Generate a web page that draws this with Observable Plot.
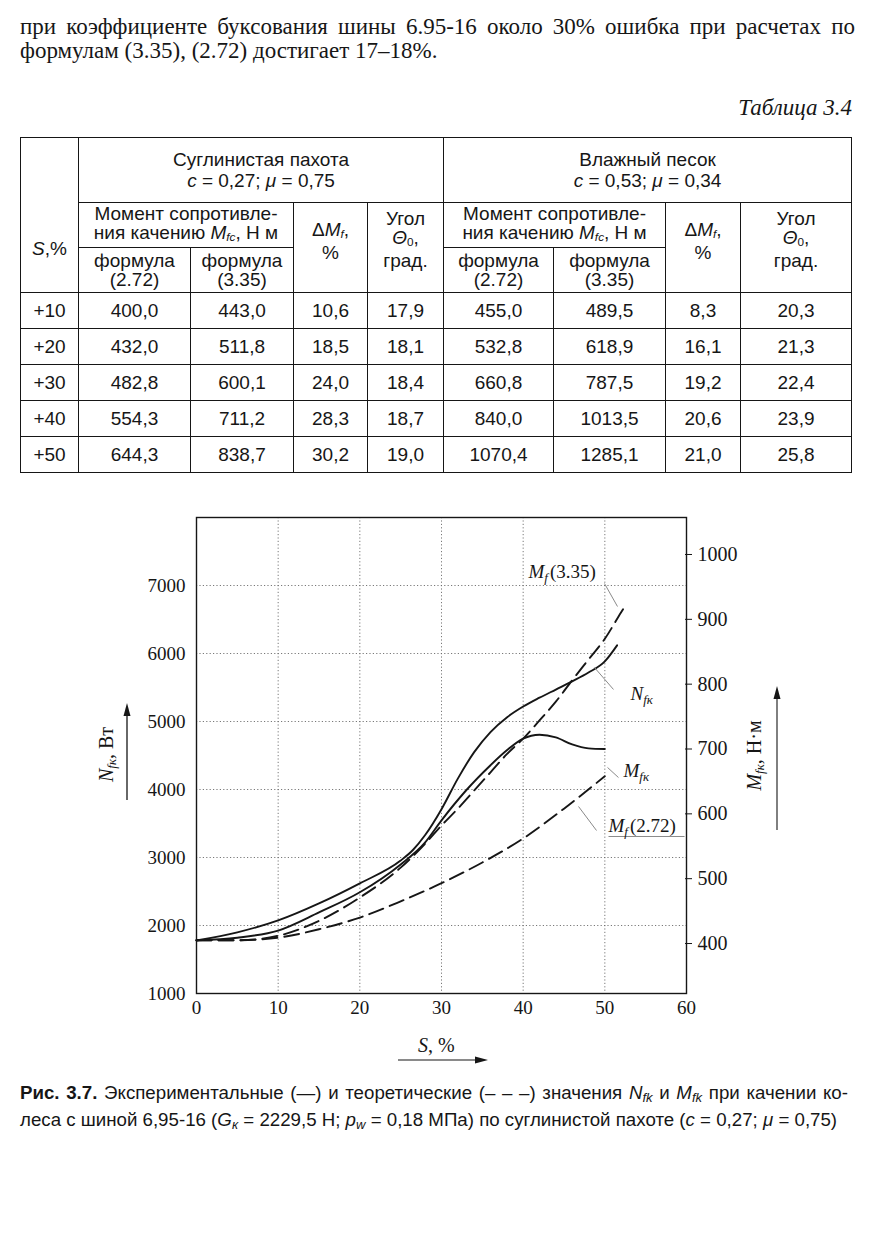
<!DOCTYPE html>
<html><head><meta charset="utf-8">
<script src="https://cdn.jsdelivr.net/npm/d3@7"></script>
<script src="https://cdn.jsdelivr.net/npm/@observablehq/plot@0.6"></script>
<style>
body{margin:0;background:#fff;}
#page{position:relative;width:885px;height:1248px;overflow:hidden;background:#fff;color:#161616;}
.serif{font-family:"Liberation Serif","Times New Roman",serif;}
.sans{font-family:"Liberation Sans",Arial,sans-serif;}
.abs{position:absolute;}
#tbl{border-collapse:collapse;table-layout:fixed;}
#tbl td{border:1.5px solid #161616;text-align:center;vertical-align:middle;padding:0;line-height:19px;}
#tbl sub{font-size:62%;vertical-align:-2px;}
#chart{position:absolute;left:0;top:490px;}
.cap sub{font-size:70%;vertical-align:-3px;}
</style></head>
<body><div id="page">

<div class="abs serif" style="left:20px;top:15px;width:835px;font-size:23px;line-height:24px;">
<div style="text-align:justify;text-align-last:justify">при коэффициенте буксования шины 6.95-16 около 30% ошибка при расчетах по</div>
<div>формулам (3.35), (2.72) достигает 17–18%.</div>
</div>
<div class="abs serif" style="right:33px;top:95px;font-size:23px;font-style:italic">Таблица 3.4</div>

<table id="tbl" class="abs sans" style="left:20px;top:137px;width:831px;font-size:19px;">
<colgroup><col style="width:58px"><col style="width:112px"><col style="width:103px"><col style="width:74px"><col style="width:76px"><col style="width:110px"><col style="width:112px"><col style="width:75px"><col style="width:111px"></colgroup>
<tbody id="tb">
<tr style="height:65px">
<td rowspan="3" style="vertical-align:top;padding-top:101px"><i>S</i>,%</td>
<td colspan="4" style="line-height:21px">Суглинистая пахота<br><i>c</i> = 0,27; <i>μ</i> = 0,75</td>
<td colspan="4" style="line-height:21px">Влажный песок<br><i>c</i> = 0,53; <i>μ</i> = 0,34</td>
</tr>
<tr style="height:45px">
<td colspan="2">Момент сопротивле-<br>ния качению <i>M<sub>fc</sub></i>, Н м</td>
<td rowspan="2" style="padding-bottom:14px">Δ<i>M<sub>f</sub></i>,<br>%</td>
<td rowspan="2" style="padding-bottom:16px">Угол<br><i>Θ</i><sub>0</sub>,<br>град.</td>
<td colspan="2">Момент сопротивле-<br>ния качению <i>M<sub>fc</sub></i>, Н м</td>
<td rowspan="2" style="padding-bottom:14px">Δ<i>M<sub>f</sub></i>,<br>%</td>
<td rowspan="2" style="padding-bottom:16px">Угол<br><i>Θ</i><sub>0</sub>,<br>град.</td>
</tr>
<tr style="height:45px">
<td>формула<br>(2.72)</td><td>формула<br>(3.35)</td>
<td>формула<br>(2.72)</td><td>формула<br>(3.35)</td>
</tr>
</tbody></table>

<div id="chart"></div>

<!-- axis titles -->
<div class="abs serif" style="left:57px;top:742px;width:100px;text-align:center;font-size:20px;transform:rotate(-90deg);white-space:nowrap"><i>N</i><sub style="font-size:65%;font-style:italic;vertical-align:-3px">fк</sub>, Вт</div>
<div class="abs serif" style="left:705px;top:743px;width:100px;text-align:center;font-size:20px;transform:rotate(-90deg);white-space:nowrap"><i>M</i><sub style="font-size:65%;font-style:italic;vertical-align:-3px">fк</sub>, Н·м</div>
<div class="abs serif" style="left:418px;top:1034px;font-size:20px;white-space:nowrap"><i>S</i>, %</div>
<svg class="abs" style="left:0;top:0;pointer-events:none" width="885" height="1248">
<line x1="127" y1="800" x2="127" y2="712" stroke="#161616" stroke-width="1.3"/>
<polygon points="127,703 123.5,716 130.5,716" fill="#161616"/>
<line x1="777" y1="830" x2="777" y2="695" stroke="#161616" stroke-width="1.1"/>
<polygon points="777,686 773.5,699 780.5,699" fill="#161616"/>
<line x1="398" y1="1060" x2="478" y2="1060" stroke="#161616" stroke-width="1.1"/>
<polygon points="488,1060 475,1056.5 475,1063.5" fill="#161616"/>
</svg>

<div class="abs sans cap" style="left:20px;top:1082px;width:828px;font-size:18.7px;line-height:22px;">
<div style="text-align:justify;text-align-last:justify"><b>Рис. 3.7.</b> Экспериментальные (—) и теоретические (– – –) значения <i>N<sub>fk</sub></i> и <i>M<sub>fk</sub></i> при качении ко-</div>
<div>леса с шиной 6,95-16 (<i>G<sub>к</sub></i> = 2229,5 Н; <i>p<sub>w</sub></i> = 0,18 МПа) по суглинистой пахоте (<i>c</i> = 0,27; <i>μ</i> = 0,75)</div>
</div>
</div>

<script>
// ---------- table data ----------
const sRows = ["+10","+20","+30","+40","+50"];
const loamMf272 = [400.0, 432.0, 482.8, 554.3, 644.3];
const loamMf335 = [443.0, 511.8, 600.1, 711.2, 838.7];
const loamDM = [10.6, 18.5, 24.0, 28.3, 30.2];
const loamAngle = [17.9, 18.1, 18.4, 18.7, 19.0];
const sandMf272 = [455.0, 532.8, 660.8, 840.0, 1070.4];
const sandMf335 = [489.5, 618.9, 787.5, 1013.5, 1285.1];
const sandDM = [8.3, 16.1, 19.2, 20.6, 21.0];
const sandAngle = [20.3, 21.3, 22.4, 23.9, 25.8];

// ---------- chart data ----------
const xTicks = [0, 10, 20, 30, 40, 50, 60];
const yTicksW = [1000, 2000, 3000, 4000, 5000, 6000, 7000];
const rightTicksNm = [400, 500, 600, 700, 800, 900, 1000];

const sNfk = [0, 5, 10, 15, 20, 25, 26.5, 28, 30, 32, 34, 36, 38, 40, 42, 44, 46, 48, 50, 51.5];
const nfkW = [1780, 1900, 2075, 2325, 2620, 2955, 3110, 3330, 3710, 4160, 4550, 4845, 5060, 5220, 5350, 5470, 5590, 5720, 5885, 6120];

const sMfk = [0, 5, 10, 15, 20, 25, 28, 30, 33, 36, 38, 40, 42, 44, 46, 48, 50];
const mfkNm = [405, 409, 420, 448, 479, 522, 556, 590, 636, 675, 698, 716, 722, 718, 707, 701, 700];

const sMf335 = [0, 5, 10, 15, 20, 25, 28, 30, 32, 34, 36, 38, 40, 42, 44, 46, 48, 50, 52, 52.5];
const mf335Nm = [405, 405, 412, 435, 471, 517, 554, 582, 608, 636, 664, 692, 716, 744, 773, 806, 838, 870, 911, 921];

const sMf272 = [0, 5, 10, 15, 20, 25, 30, 35, 40, 45, 50];
const mf272Nm = [405, 405, 409, 422, 440, 465, 493, 525, 562, 608, 658];

// curve labels (S, W-axis units) and leader lines
const labelText = ["M|f|(3.35)", "N|fк|", "M|fк|", "M|f|(2.72)"];
const labelS = [40.65, 53.14, 52.29, 50.45];
const labelW = [7206, 5412, 4279, 3471];
const leaderS1 = [49.96, 48.73, 50.33, 46.78, 50.45];
const leaderW1 = [7029, 5794, 4324, 3750, 3309];
const leaderS2 = [51.55, 51.06, 51.67, 48.98, 59.76];
const leaderW2 = [6691, 5471, 4176, 3397, 3309];

// ---------- build table ----------
const fmt = v => v.toFixed(1).replace(".", ",");
const tb = document.getElementById("tb");
sRows.forEach((s, i) => {
  const tr = document.createElement("tr");
  tr.style.height = "36px";
  [s, fmt(loamMf272[i]), fmt(loamMf335[i]), fmt(loamDM[i]), fmt(loamAngle[i]),
   fmt(sandMf272[i]), fmt(sandMf335[i]), fmt(sandDM[i]), fmt(sandAngle[i])].forEach(t => {
    const td = document.createElement("td");
    td.textContent = t;
    tr.appendChild(td);
  });
  tb.appendChild(tr);
});

// ---------- chart ----------
const nmToW = d3.scaleLinear().domain([400, 1000]).range([1735, 7456]);
const rows = (sArr, vArr, conv) => sArr.map((s, i) => ({s, v: conv ? nmToW(vArr[i]) : vArr[i]}));
const nfk = rows(sNfk, nfkW, false);
const mfk = rows(sMfk, mfkNm, true);
const mf335 = rows(sMf335, mf335Nm, true);
const mf272 = rows(sMf272, mf272Nm, true);
const labels = labelText.map((t, i) => ({t, s: labelS[i], v: labelW[i]}));
const leaders = leaderS1.map((s, i) => ({s1: s, v1: leaderW1[i], s2: leaderS2[i], v2: leaderW2[i]}));

const ink = "#161616";
const grid = {stroke: "#6a6a6a", strokeOpacity: 1, strokeWidth: 0.9, strokeDasharray: "1.2,2.2"};

const plot = Plot.plot({
  width: 885, height: 590,
  marginLeft: 196, marginRight: 199, marginTop: 27, marginBottom: 87,
  x: {domain: [0, 60]},
  y: {domain: [1000, 8000]},
  style: {fontFamily: '"Liberation Serif","Times New Roman",serif', fontSize: "19px", color: ink, background: "transparent", overflow: "visible"},
  marks: [
    Plot.gridX(xTicks.slice(1, -1), grid),
    Plot.gridY(yTicksW.slice(1), grid),
    Plot.frame({stroke: ink, strokeWidth: 1.4}),
    Plot.axisX(xTicks, {tickSize: 0, tickPadding: 7, label: null, fontSize: 19, tickFormat: d => String(d)}),
    Plot.axisY(yTicksW, {tickSize: 0, tickPadding: 11, label: null, fontSize: 19, tickFormat: d => String(d)}),
    Plot.axisY(rightTicksNm.map(nmToW), {anchor: "right", tickSize: 7, tickPadding: 6, dx: -2, label: null, fontSize: 20,
      tickFormat: d => String(Math.round(nmToW.invert(d)))}),
    Plot.line(mf272, {x: "s", y: "v", curve: "monotone-x", stroke: ink, strokeWidth: 1.9, strokeDasharray: "15,7"}),
    Plot.line(mf335, {x: "s", y: "v", curve: "monotone-x", stroke: ink, strokeWidth: 1.9, strokeDasharray: "15,7"}),
    Plot.line(mfk, {x: "s", y: "v", curve: "monotone-x", stroke: ink, strokeWidth: 1.9}),
    Plot.line(nfk, {x: "s", y: "v", curve: "monotone-x", stroke: ink, strokeWidth: 1.9}),
    Plot.link(leaders, {x1: "s1", y1: "v1", x2: "s2", y2: "v2", stroke: "#8a8a8a", strokeWidth: 1}),
    Plot.text(labels, {x: "s", y: "v", text: "t", textAnchor: "start", fontSize: 19, fill: ink})
  ]
});
document.getElementById("chart").appendChild(plot);

// subscripts for curve labels
plot.querySelectorAll("text").forEach(el => {
  const txt = el.textContent;
  if (!txt.includes("|")) return;
  const [a, b, c] = txt.split("|");
  el.textContent = "";
  const ns = "http://www.w3.org/2000/svg";
  const t1 = document.createElementNS(ns, "tspan"); t1.textContent = a; t1.setAttribute("font-style", "italic");
  const t2 = document.createElementNS(ns, "tspan"); t2.textContent = b; t2.setAttribute("font-style", "italic");
  t2.setAttribute("font-size", "13"); t2.setAttribute("dy", "4");
  el.appendChild(t1); el.appendChild(t2);
  if (c) {
    const t3 = document.createElementNS(ns, "tspan"); t3.textContent = c; t3.setAttribute("dy", "-4"); t3.setAttribute("dx", "2");
    el.appendChild(t3);
  }
});
</script>
</body></html>
